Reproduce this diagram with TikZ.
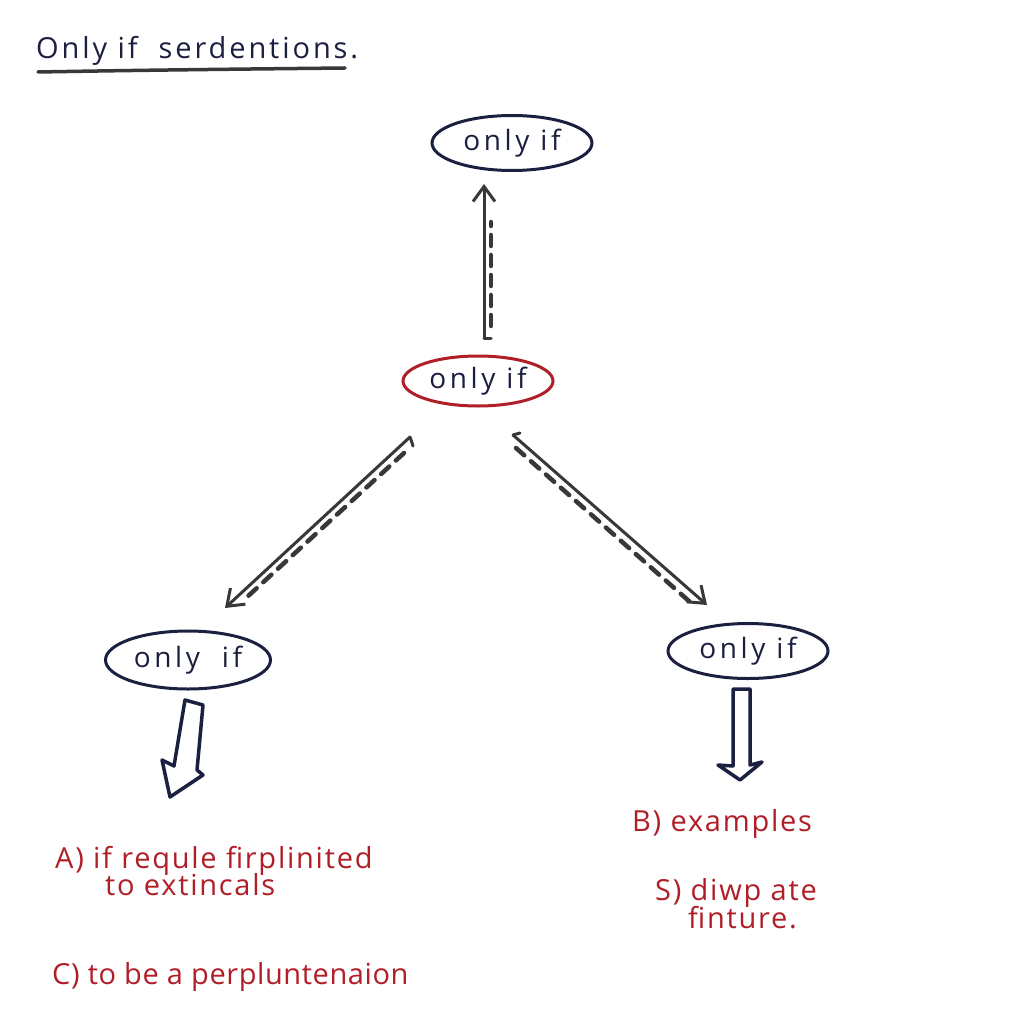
\documentclass[tikz,border=0pt]{standalone}
\usepackage{fontspec}
\setmainfont{Open Sans}
\usetikzlibrary{shapes.geometric,arrows.meta}
\definecolor{ink}{HTML}{1C2040}
\definecolor{redink}{HTML}{B01E28}
\definecolor{pen}{HTML}{383838}
\newfontfamily\bubblefont[LetterSpace=13]{Open Sans}
\newfontfamily\notefont[LetterSpace=6]{Open Sans}
\newfontfamily\tightnotefont[LetterSpace=2]{Open Sans}
\newfontfamily\titlefont[LetterSpace=10]{Open Sans}
\tikzset{
  bubble/.style={ellipse,draw=ink,line width=3pt,text=ink,inner sep=0pt,font=\bubblefont\fontsize{28}{32}\selectfont},
  redbubble/.style={bubble,draw=redink},
  arr/.style={draw=pen,line width=3pt,-{Straight Barb[length=15pt,width=22pt,line width=3pt]}},
  hook/.style={draw=pen,line width=3pt,line cap=round},
  dashline/.style={draw=pen,line width=4.5pt,dash pattern=on 11pt off 9pt,line cap=round},
  hollow/.style={draw=ink,line width=3.5pt,line join=round},
  note/.style={text=redink,anchor=base west,inner sep=0pt,font=\notefont\fontsize{29}{34}\selectfont},
}
\begin{document}
\begin{tikzpicture}[x=1pt,y=-1pt]
\useasboundingbox[fill=white] (0,0) rectangle (1024,1024);
% title
\node[anchor=base west,inner sep=0pt,text=ink,font=\titlefont\fontsize{29}{34}\selectfont] (title) at (36,59) {Only if\ \ serdentions.};
\draw[pen,line width=3.5pt,line cap=round] (38,72) .. controls (150,70) and (250,69) .. (345,68);
% nodes
\node[bubble,minimum width=160pt,minimum height=55pt] (top) at (512,143) {only if\hspace{18pt}};
\node[redbubble,minimum width=150pt,minimum height=50pt] (mid) at (478,381) {only if};
\node[bubble,minimum width=165pt,minimum height=58pt] (left) at (188,660) {only\ \ if};
\node[bubble,minimum width=160pt,minimum height=55pt] (right) at (748,651) {only if};
% connectors
\coordinate (vA) at (484,338); \coordinate (vB) at (484,184);
\draw[arr] (vA) -- (vB);
\draw[hook] (vA) -- (491,338);
\draw[dashline] (491,326) -- (491,222);
\coordinate (lA) at (410,437); \coordinate (lB) at (225,608);
\draw[arr] (lA) -- (lB);
\draw[hook] (lA) -- (413,446);
\draw[dashline] (404,453) -- (246,598);
\coordinate (rA) at (513,435); \coordinate (rB) at (707,605);
\draw[arr] (rA) -- (rB);
\draw[hook] (rA) -- (520,433);
\draw[dashline] (516,448) -- (690,602);
% hollow arrows
\draw[hollow] (185,700) -- (203,705) -- (197,770) -- (203,775) -- (170,797) -- (162,760) -- (174,766) -- cycle;
\draw[hollow] (733,689) -- (750,689) -- (750,765) -- (762,762) -- (740,780) -- (718,765) -- (733,766) -- cycle;
% notes
\node[note] (a1) at (55,868) {A) if requle firplinited};
\node[note] (a2) at (105,895) {to extincals};
\node[note,font=\tightnotefont\fontsize{29}{34}\selectfont] (c1) at (52,984) {C) to be a perpluntenaion};
\node[note] (b1) at (632,831) {B) examples};
\node[note] (s1) at (655,900) {S) diwp ate};
\node[note] (s2) at (688,928) {finture.};
\end{tikzpicture}
\end{document}
